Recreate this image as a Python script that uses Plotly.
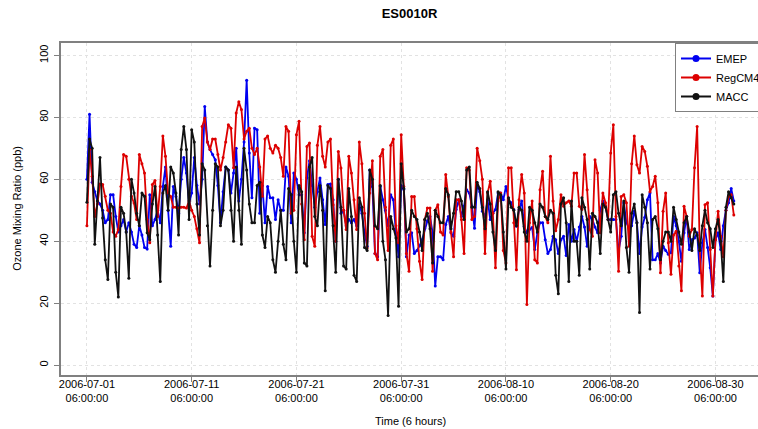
import pandas as pd
import plotly.graph_objects as go

# ---------------- data ----------------
title_text = "ES0010R"
x_title = "Time (6 hours)"
y_title = "Ozone Mixing Ratio (ppb)"
start_time = "2006-07-01 06:00:00"
step = "6h"

emep = (
    [60, 81, 59, 56, 53, 52, 50, 46, 47, 55]
    + [55, 48, 43, 45, 47, 43, 46, 43, 39, 38]
    + [45, 42, 38, 37.5, 55, 45, 47, 50, 46, 57.7]
    + [64, 50, 38.4, 57.7, 54.4, 49, 60, 67, 62, 52]
    + [55.6, 67, 58, 52, 60, 83.5, 72, 69.6, 68, 66.3]
    + [58, 46, 56, 64, 63, 55.6, 62, 70, 53, 60]
    + [72, 92, 68.5, 54, 76.5, 76, 49, 58, 46, 57.7]
    + [54, 54, 47, 53.4, 50, 50, 64, 61, 46, 62]
    + [60, 55, 55, 42.7, 60.5, 66, 58, 51, 56, 60.4]
    + [53.4, 45.4, 58.3, 58.5, 53.4, 40, 60, 49, 50, 45]
    + [47, 46, 47, 45, 51.8, 49, 42.7, 38.4, 63, 57.7]
    + [36, 35, 57.7, 53.4, 50, 45, 55, 53.4, 42.7, 35]
    + [58, 56.7, 35, 42, 42.7, 36, 37, 38.5, 40.5, 44, 46.5]
    + [48, 42.7, 25.5, 35, 35, 34, 45.4, 48, 42.7, 41.6]
    + [50.2, 53.4, 48, 51.3, 56.6, 55.6, 51.3, 44.2, 58.3, 56]
    + [49.7, 48, 53.4, 47, 49, 50.2, 55.6, 55.6, 53.4, 57.7]
    + [53.4, 52.4, 50.2, 44.8, 50.2, 53, 44.8, 42.7, 43.8, 44.4]
    + [37.3, 42.7, 46, 46, 40.5, 36, 37.3, 41.6, 40.5, 36]
    + [40.5, 41.6, 35.4, 45.4, 40, 43.8, 40, 44.6, 48, 44.6]
    + [38.4, 48, 47, 44.6, 42.7, 50, 53, 51.3, 47, 47]
    + [47, 47, 36.8, 41.6, 52.4, 46, 44, 45, 49.7, 46]
    + [36, 44.6, 47.7, 53.4, 55.6, 34, 34, 36, 33, 38.4]
    + [37, 35.8, 36.3, 48, 45, 40, 33.5, 42.7, 48, 37.3]
    + [40.5, 41, 42.7, 29.8, 39.5, 43.8, 38, 31.4, 22.3, 40.5]
    + [42.7, 37.3, 45, 50, 52.4, 57, 53]
)

regcm4 = (
    [45, 69.6, 61, 48, 52, 58.5, 58.3, 54.5, 50, 49]
    + [43, 41.6, 43.8, 57.7, 68, 67.4, 60, 54.5, 52.3, 47]
    + [68, 65, 62, 47, 39.5, 58.3, 59.6, 48, 57.7, 74]
    + [67.4, 55.6, 54.4, 51, 51, 50.7, 51, 51, 50.7, 53]
    + [50, 48, 44, 39.5, 77, 79.8, 72, 69.6, 73, 73]
    + [68, 63, 67, 72, 77.6, 76.5, 63.7, 81.4, 85, 82.5]
    + [73, 75.5, 76.5, 70, 68, 70, 64, 54.5, 73, 74]
    + [70, 68.5, 71, 70, 67, 61, 77, 75.5, 49, 50]
    + [74.4, 78.7, 52, 40.5, 70.6, 71.7, 41.6, 38.4, 71, 77]
    + [67.4, 64, 72, 73, 51.8, 40, 69, 63.6, 50, 43.8]
    + [67.4, 62, 53.4, 43.8, 72, 65, 49, 37.8, 55.6, 66]
    + [36, 34, 67.4, 69.6, 51, 37, 71, 73, 45, 39.5]
    + [74.4, 57.7, 36, 30.3, 54.4, 54.4, 44, 33.5, 27.6, 47, 50.7]
    + [50.7, 30.3, 50, 51.8, 43, 42, 61.5, 54.4, 43, 35]
    + [53.4, 53.4, 47, 36, 63.7, 63, 47, 48, 70, 66]
    + [60, 36, 55.6, 59.4, 49, 31.4, 53, 55.6, 37, 33]
    + [63.7, 63.7, 46, 30.8, 53.4, 61.5, 55.6, 19.6, 46, 53]
    + [34, 33, 56.6, 62.6, 48, 46, 67.4, 53, 43.4, 47]
    + [55, 51.3, 52.4, 53, 51.3, 62, 62, 51.3, 50.2, 68]
    + [56.6, 43.8, 41.6, 66.3, 62, 42.7, 55.6, 52.4, 47, 68.5]
    + [77.6, 48, 30.3, 54.4, 55, 52.4, 38.4, 65, 74, 64.7]
    + [62, 70.6, 69, 64.2, 56, 57.7, 61, 52.4, 29.8, 49.7]
    + [55.6, 39.5, 29.3, 42, 43.2, 32, 24, 51.3, 48, 41.6]
    + [43.8, 63.7, 77, 37.3, 22.3, 51.8, 52.4, 37.3, 22.3, 40.5]
    + [49.7, 41.6, 35, 50, 54.4, 55, 48.5]
)

macc = (
    [52.6, 73, 70, 39, 53, 67, 47.5, 34, 27.6, 52]
    + [51, 30, 22, 51, 49, 43, 28, 60, 55.6, 49]
    + [45, 55.6, 54.5, 42.7, 40.5, 52, 57.7, 42, 27, 55.6]
    + [58, 50, 64, 62, 55.6, 42, 69.6, 77, 69.6, 47]
    + [76, 72, 52, 42, 65, 63, 45, 32, 50, 65]
    + [64, 45, 50, 64, 63, 50, 40, 64, 50, 39]
    + [70, 63, 52, 46, 46, 58, 59, 42, 38, 48]
    + [46, 34, 30, 40, 50, 39, 34, 57, 55, 40]
    + [30, 58, 56, 33, 32, 64, 67, 48, 45, 58]
    + [50, 24, 58, 57, 45, 30, 60, 51, 32, 31]
    + [57, 48, 29, 27, 54, 51, 38, 37, 63, 60]
    + [45, 44, 58, 40, 34, 16, 48, 44, 41, 19]
    + [65, 57, 43, 44, 50, 48, 47, 43, 37, 47, 49]
    + [44, 33, 50, 48, 46, 46, 57, 55, 44, 49]
    + [56, 56, 53, 47, 63, 64, 51, 51, 59, 57]
    + [51, 44, 56, 52, 43, 37, 56, 55, 43, 31]
    + [54, 51, 50, 45, 51, 50, 43, 40, 51, 50]
    + [46, 43, 52, 51, 48, 47, 50, 49, 29, 23]
    + [52, 54, 46, 27, 53, 40, 40, 29, 54, 51]
    + [47, 31, 49, 48, 46, 36, 52, 51, 47, 43]
    + [55, 56, 49, 45, 53, 38, 30, 49, 52, 46]
    + [17, 55, 51, 46, 31, 47, 48, 44, 34, 40]
    + [43, 43, 40, 51, 47, 43, 39, 46, 48, 43]
    + [37, 44, 42, 37, 45, 50, 46, 44, 38, 44]
    + [47, 40, 27, 51, 56, 54, 52]
)

series_names = ["EMEP", "RegCM4", "MACC"]
series_colors = ["#0000f0", "#dd0000", "#111111"]

x_tick_dates = ["2006-07-01 06:00:00", "2006-07-11 06:00:00", "2006-07-21 06:00:00",
                "2006-07-31 06:00:00", "2006-08-10 06:00:00", "2006-08-20 06:00:00",
                "2006-08-30 06:00:00"]
x_tick_text = [d.replace(" ", "<br>") for d in x_tick_dates]
y_tick_vals = [0, 20, 40, 60, 80, 100]

# ---------------- figure ----------------
t0 = pd.Timestamp(start_time)
times = pd.date_range(t0, periods=len(emep), freq=step)

font_family = "Liberation Sans, Arial, Helvetica, sans-serif"

fig = go.Figure()
for name, vals, col in zip(series_names, [emep, regcm4, macc], series_colors):
    fig.add_trace(go.Scatter(
        x=times, y=vals, name=name, mode="lines+markers",
        line=dict(color=col, width=1.8),
        marker=dict(color=col, size=3),
        showlegend=False, legendgroup=name,
    ))
# legend entries (same series, larger legend symbol like the reference)
for name, col in zip(series_names, series_colors):
    fig.add_trace(go.Scatter(
        x=[None], y=[None], name=name, mode="lines+markers",
        line=dict(color=col, width=2), marker=dict(color=col, size=7),
        showlegend=True, legendgroup=name,
    ))

x_lo = t0 - pd.Timedelta(days=2.474)
x_hi = t0 + pd.Timedelta(days=64.06)

axis_gray = "#808080"
grid_gray = "#e2e2e2"

fig.update_layout(
    width=758, height=429,
    margin=dict(l=61, r=0, t=43, b=53.5, pad=0, autoexpand=False),
    paper_bgcolor="white", plot_bgcolor="white",
    font=dict(family=font_family, size=11, color="#000000"),
    title=dict(text="<b>" + title_text + "</b>", x=0.5, xref="paper",
               xanchor="center", y=1 - 13 / 429, yref="container",
               yanchor="middle", automargin=False,
               font=dict(size=13, family=font_family, color="#000000")),
    showlegend=True,
    legend=dict(x=(675 - 61) / 697, y=1, xanchor="left", yanchor="top",
                bgcolor="white", bordercolor=axis_gray, borderwidth=1,
                font=dict(size=11, family=font_family),
                itemsizing="trace", tracegroupgap=0, itemwidth=30),
    xaxis=dict(
        type="date", range=[x_lo, x_hi], automargin=False,
        tickmode="array", tickvals=x_tick_dates, ticktext=x_tick_text,
        ticks="outside", ticklen=5, tickcolor=axis_gray, tickwidth=1,
        ticklabelstandoff=-7,
        showgrid=True, gridcolor=grid_gray, griddash="dot", gridwidth=1,
        showline=True, linecolor=axis_gray, linewidth=1.5, mirror=True,
        zeroline=False,
        tickfont=dict(size=11, family=font_family),
    ),
    yaxis=dict(
        range=[-3.2, 104], automargin=False,
        tickmode="array", tickvals=y_tick_vals,
        tickangle=-90,
        ticks="outside", ticklen=5, tickcolor=axis_gray, tickwidth=1,
        showgrid=True, gridcolor=grid_gray, griddash="dot", gridwidth=1,
        showline=True, linecolor=axis_gray, linewidth=1.5, mirror=False,
        zeroline=False,
        ticklabelstandoff=2,
        tickfont=dict(size=11, family=font_family),
    ),
    annotations=[
        dict(text=x_title, xref="paper", yref="paper",
             x=(410 - 61) / 697, y=(375.5 - 422) / 332.5,
             xanchor="center", yanchor="middle", showarrow=False,
             font=dict(size=11, family=font_family, color="#000000")),
        dict(text=y_title, xref="paper", yref="paper",
             x=(17 - 61) / 697, y=(375.5 - 209) / 332.5, textangle=-90,
             xanchor="center", yanchor="middle", showarrow=False,
             font=dict(size=11, family=font_family, color="#000000")),
    ],
)

fig.write_html(
    "out.html",
    config={"displayModeBar": False},
    post_script="document.body.style.margin='0';document.body.style.overflow='hidden';",
)
